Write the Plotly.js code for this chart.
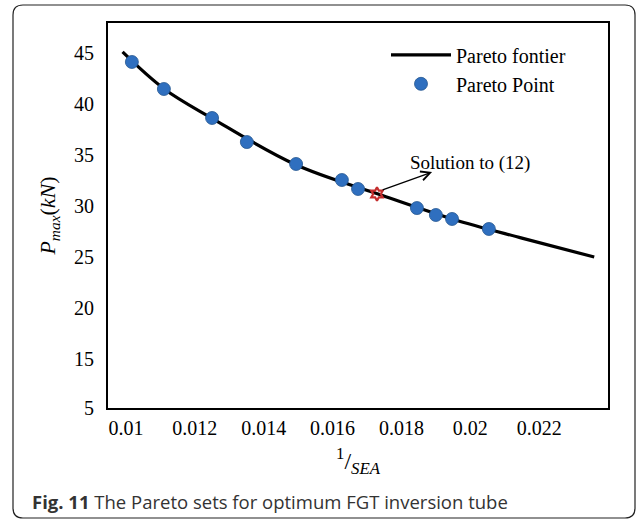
<!DOCTYPE html>
<html>
<head>
<meta charset="utf-8">
<script src="https://cdn.plot.ly/plotly-3.0.1.min.js"></script>
<style>
  html, body { margin: 0; padding: 0; background: #ffffff; }
  #chart { width: 637px; height: 522px; }
</style>
</head>
<body>
<div id="chart"></div>
<script>
// Pareto frontier curve
var frontierX = [0.0099, 0.0111, 0.0125, 0.0149, 0.0173, 0.0195, 0.0215, 0.0236];
var frontierY = [45.1, 41.5, 38.6, 34.1, 31.2, 28.7, 26.85, 25.0];

// Pareto points (blue markers)
var pointX = [0.01017, 0.0111, 0.0125, 0.01351, 0.01494, 0.01627, 0.01674, 0.01845, 0.0190, 0.01947, 0.02054];
var pointY = [44.12, 41.47, 38.63, 36.27, 34.12, 32.55, 31.67, 29.8, 29.12, 28.73, 27.75];

// Chosen solution (red star)
var solutionX = [0.01729];
var solutionY = [31.18];

// Tick labels
var xTickVals = [0.01, 0.012, 0.014, 0.016, 0.018, 0.02, 0.022];
var xTickText = ['0.01', '0.012', '0.014', '0.016', '0.018', '0.02', '0.022'];
var yTickVals = [10.2, 15, 20, 25, 30, 35, 40, 45];
var yTickText = ['5', '15', '20', '25', '30', '35', '40', '45'];

var traces = [
  {
    x: frontierX, y: frontierY, type: 'scatter', mode: 'lines',
    name: 'Pareto fontier',
    line: { color: '#000000', width: 3.2, shape: 'spline', smoothing: 1 }
  },
  {
    x: pointX, y: pointY, type: 'scatter', mode: 'markers',
    name: 'Pareto Point',
    marker: { color: '#2f6fbf', size: 13, line: { color: '#23558f', width: 0.8 } }
  },
  {
    x: solutionX, y: solutionY, type: 'scatter', mode: 'markers',
    name: 'Solution to (12)', showlegend: false,
    marker: { symbol: 'hexagram-open', color: '#c42d2d', size: 10, line: { color: '#c42d2d', width: 2.2 } }
  }
];

// outer rounded frame in paper coordinates
var x0 = -0.19, x1 = 1.054, y0 = -0.2857, y1 = 1.0468, rx = 0.02, ry = 0.026;
var framePath = 'M' + (x0 + rx) + ',' + y1 + ' L' + (x1 - rx) + ',' + y1 +
  ' Q' + x1 + ',' + y1 + ' ' + x1 + ',' + (y1 - ry) +
  ' L' + x1 + ',' + (y0 + ry) +
  ' Q' + x1 + ',' + y0 + ' ' + (x1 - rx) + ',' + y0 +
  ' L' + (x0 + rx) + ',' + y0 +
  ' Q' + x0 + ',' + y0 + ' ' + x0 + ',' + (y0 + ry) +
  ' L' + x0 + ',' + (y1 - ry) +
  ' Q' + x0 + ',' + y1 + ' ' + (x0 + rx) + ',' + y1 + ' Z';

var layout = {
  width: 637, height: 522,
  margin: { l: 108, r: 29, t: 23, b: 114 },
  paper_bgcolor: '#ffffff', plot_bgcolor: '#ffffff',
  font: { family: 'Liberation Serif, Times New Roman, serif', color: '#000000', size: 19 },
  showlegend: true,
  legend: {
    x: 0.556, y: 0.968, xanchor: 'left', yanchor: 'top',
    bgcolor: 'rgba(0,0,0,0)', borderwidth: 0,
    font: { family: 'Liberation Serif, serif', size: 20, color: '#000000' },
    itemwidth: 60, tracegroupgap: 4
  },
  xaxis: {
    range: [0.009477, 0.024],
    tickvals: xTickVals, ticktext: xTickText,
    ticks: 'outside', ticklen: 1, tickcolor: 'rgba(0,0,0,0)',
    showgrid: false, zeroline: false,
    showline: true, linecolor: '#000000', linewidth: 2, mirror: true,
    tickfont: { family: 'Liberation Serif, serif', size: 20, color: '#000000' },
    title: { text: '<sup>1</sup>/<sub><i>SEA</i></sub>', font: { family: 'Liberation Serif, serif', size: 24 }, standoff: 14 },
    automargin: false
  },
  yaxis: {
    range: [10.2, 47.94],
    tickvals: yTickVals, ticktext: yTickText,
    ticks: 'outside', ticklen: 8, tickcolor: 'rgba(0,0,0,0)',
    showgrid: false, zeroline: false,
    showline: true, linecolor: '#000000', linewidth: 2, mirror: true,
    tickfont: { family: 'Liberation Serif, serif', size: 20, color: '#000000' },
    title: { text: '<i>P</i><sub><i>max</i></sub>(<i>kN</i>)', font: { family: 'Liberation Serif, serif', size: 22 }, standoff: 12 },
    automargin: false
  },
  shapes: [
    { type: 'path', xref: 'paper', yref: 'paper', path: framePath,
      line: { color: '#222222', width: 1.2 }, fillcolor: 'rgba(0,0,0,0)', layer: 'below' }
  ],
  annotations: [
    { x: 0.0200, y: 34.2, xref: 'x', yref: 'y', text: 'Solution to (12)', showarrow: false,
      font: { family: 'Liberation Serif, serif', size: 19, color: '#000000' }, xanchor: 'center', yanchor: 'middle' },
    { x: 0.01889, y: 33.33, xref: 'x', yref: 'y', ax: solutionX[0] + 0.00012, ay: solutionY[0] + 0.35,
      axref: 'x', ayref: 'y', text: '', showarrow: true, arrowhead: 5, arrowsize: 1.4, arrowwidth: 1.3,
      arrowcolor: '#000000', standoff: 0, startstandoff: 0 },
    { x: -0.156, y: -0.244, xref: 'paper', yref: 'paper', xanchor: 'left', yanchor: 'middle', showarrow: false,
      text: '<b>Fig. 11</b> The Pareto sets for optimum FGT inversion tube',
      font: { family: 'Open Sans, Noto Sans, sans-serif', size: 18.5, color: '#333333' } }
  ]
};

Plotly.newPlot('chart', traces, layout, { displayModeBar: false, staticPlot: true });
</script>
</body>
</html>
